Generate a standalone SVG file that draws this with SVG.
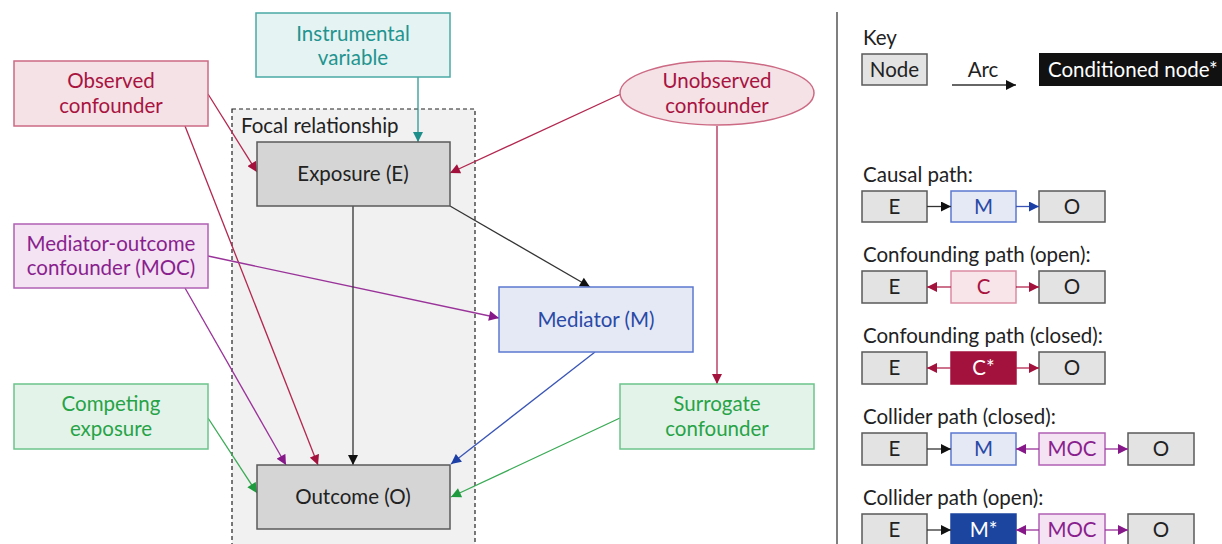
<svg xmlns="http://www.w3.org/2000/svg" width="1222" height="544" viewBox="0 0 1222 544">
<style>
text { font-family: Lato, "Noto Sans", "Liberation Sans", sans-serif; font-size: 20.5px; }
.c { text-anchor: middle; }
.gray { fill: #d5d5d5; stroke: #5a5a5a; stroke-width: 1.5; }
.kgray { fill: #e3e3e3; stroke: #5a5a5a; stroke-width: 1.5; }
.red { fill: #f5e2e7; stroke: #cc6a84; stroke-width: 1.5; }
.teal { fill: #e5f3f2; stroke: #4aa9a5; stroke-width: 1.5; }
.purple { fill: #f3e3f3; stroke: #b060b4; stroke-width: 1.5; }
.green { fill: #e4f3e9; stroke: #6cc48a; stroke-width: 1.5; }
.blue { fill: #e5e9f6; stroke: #5b78cf; stroke-width: 1.5; }
.tred { fill: #a8143f; } .tteal { fill: #22948f; } .tpur { fill: #8a1f8e; } .tgreen { fill: #27a347; } .tblue { fill: #2a4aa6; } .tdark { fill: #222; }
.e { fill: none; stroke-width: 1.3; }
.ek { stroke: #333; marker-end: url(#ak); }
.er { stroke: #b3274f; marker-end: url(#ar); }
.ep { stroke: #993399; marker-end: url(#ap); }
.et { stroke: #2a9a96; marker-end: url(#at); }
.eb { stroke: #3a55b5; marker-end: url(#ab); }
.eg { stroke: #3aaa55; marker-end: url(#ag); }
</style>
<defs>
<marker id="ak" viewBox="0 0 10 10" refX="10" refY="5" markerWidth="11" markerHeight="10" markerUnits="userSpaceOnUse" orient="auto"><path d="M0,0 L10,5 L0,10 z" fill="#111"/></marker>
<marker id="ar" viewBox="0 0 10 10" refX="10" refY="5" markerWidth="11" markerHeight="10" markerUnits="userSpaceOnUse" orient="auto"><path d="M0,0 L10,5 L0,10 z" fill="#a3123d"/></marker>
<marker id="ap" viewBox="0 0 10 10" refX="10" refY="5" markerWidth="11" markerHeight="10" markerUnits="userSpaceOnUse" orient="auto"><path d="M0,0 L10,5 L0,10 z" fill="#86188a"/></marker>
<marker id="at" viewBox="0 0 10 10" refX="10" refY="5" markerWidth="11" markerHeight="10" markerUnits="userSpaceOnUse" orient="auto"><path d="M0,0 L10,5 L0,10 z" fill="#1d8e8a"/></marker>
<marker id="ab" viewBox="0 0 10 10" refX="10" refY="5" markerWidth="11" markerHeight="10" markerUnits="userSpaceOnUse" orient="auto"><path d="M0,0 L10,5 L0,10 z" fill="#1c3fa6"/></marker>
<marker id="ag" viewBox="0 0 10 10" refX="10" refY="5" markerWidth="11" markerHeight="10" markerUnits="userSpaceOnUse" orient="auto"><path d="M0,0 L10,5 L0,10 z" fill="#1f9a3e"/></marker>
</defs>
<rect width="1222" height="544" fill="#ffffff"/>

<g id="focal">
<rect x="232" y="109" width="243" height="445" fill="#f1f1f1" stroke="#222" stroke-width="1.2" stroke-dasharray="4,3"/>
<text x="241" y="133" class="tdark">Focal relationship</text>
</g>

<g id="connectors">
<line class="e et" x1="418" y1="77" x2="418" y2="142"/>
<line class="e er" x1="208" y1="94" x2="257" y2="172"/>
<line class="e er" x1="185" y1="126" x2="318" y2="465"/>
<line class="e er" x1="621" y1="94" x2="450" y2="173"/>
<line class="e er" x1="717" y1="126" x2="717" y2="384"/>
<line class="e ep" x1="208" y1="256" x2="499" y2="318"/>
<line class="e ep" x1="185" y1="288" x2="286" y2="465"/>
<line class="e eg" x1="208" y1="418" x2="257" y2="493"/>
<line class="e ek" x1="353" y1="206" x2="353" y2="465"/>
<line class="e ek" x1="450" y1="206" x2="590" y2="287"/>
<line class="e eb" x1="595" y1="352" x2="451" y2="464"/>
<line class="e eg" x1="620" y1="418" x2="451" y2="497"/>
</g>

<g id="instrumental">
<rect class="teal" x="256" y="13" width="194" height="64"/>
<text class="c tteal" x="353" y="41">Instrumental</text>
<text class="c tteal" x="353" y="65">variable</text>
</g>
<g id="observed">
<rect class="red" x="14" y="61" width="194" height="65"/>
<text class="c tred" x="111" y="88">Observed</text>
<text class="c tred" x="111" y="113">confounder</text>
</g>
<g id="unobserved">
<ellipse class="red" cx="717" cy="93" rx="97" ry="32"/>
<text class="c tred" x="717" y="88">Unobserved</text>
<text class="c tred" x="717" y="113">confounder</text>
</g>
<g id="exposure">
<rect class="gray" x="257" y="142" width="193" height="64"/>
<text class="c tdark" x="353" y="181">Exposure (E)</text>
</g>
<g id="moc">
<rect class="purple" x="14" y="224" width="194" height="64"/>
<text class="c tpur" x="111" y="251">Mediator-outcome</text>
<text class="c tpur" x="111" y="275">confounder (MOC)</text>
</g>
<g id="mediator">
<rect class="blue" x="499" y="287" width="194" height="65"/>
<text class="c tblue" x="596" y="327">Mediator (M)</text>
</g>
<g id="competing">
<rect class="green" x="14" y="384" width="194" height="65"/>
<text class="c tgreen" x="111" y="411">Competing</text>
<text class="c tgreen" x="111" y="436">exposure</text>
</g>
<g id="surrogate">
<rect class="green" x="620" y="384" width="194" height="65"/>
<text class="c tgreen" x="717" y="411">Surrogate</text>
<text class="c tgreen" x="717" y="436">confounder</text>
</g>
<g id="outcome">
<rect class="gray" x="257" y="465" width="193" height="64"/>
<text class="c tdark" x="353" y="504">Outcome (O)</text>
</g>

<line x1="837" y1="12" x2="837" y2="544" stroke="#555" stroke-width="1.5"/>

<g id="key">
<text x="863" y="45" class="tdark">Key</text>
<rect class="kgray" x="862" y="54" width="65" height="31"/>
<text class="c tdark" x="894.5" y="77">Node</text>
<text class="c tdark" x="983" y="77">Arc</text>
<line class="e ek" x1="952" y1="85" x2="1016" y2="85"/>
<rect x="1039" y="53" width="190" height="33" fill="#111"/>
<text x="1048" y="77" fill="#fff">Conditioned node*</text>
</g>

<g id="key-causal">
<text x="863" y="182" class="tdark">Causal path:</text>
<rect class="kgray" x="862" y="191" width="65" height="31"/>
<text class="c tdark" x="894.5" y="214">E</text>
<rect class="blue" x="951" y="191" width="65" height="31"/>
<text class="c tblue" x="983.5" y="214">M</text>
<rect class="kgray" x="1039" y="191" width="66" height="31"/>
<text class="c tdark" x="1072" y="214">O</text>
<line class="e ek" x1="927" y1="206.5" x2="951" y2="206.5"/>
<line class="e eb" x1="1016" y1="206.5" x2="1039" y2="206.5"/>
</g>

<g id="key-conf-open">
<text x="863" y="262" class="tdark">Confounding path (open):</text>
<rect class="kgray" x="862" y="271" width="65" height="32"/>
<text class="c tdark" x="894.5" y="294">E</text>
<rect fill="#f8e5ea" stroke="#da8ca2" stroke-width="1.5" x="951" y="271" width="65" height="32"/>
<text class="c tred" x="983.5" y="294">C</text>
<rect class="kgray" x="1039" y="271" width="66" height="32"/>
<text class="c tdark" x="1072" y="294">O</text>
<line class="e er" x1="951" y1="287" x2="927" y2="287"/>
<line class="e er" x1="1016" y1="287" x2="1039" y2="287"/>
</g>

<g id="key-conf-closed">
<text x="863" y="343" class="tdark">Confounding path (closed):</text>
<rect class="kgray" x="862" y="352" width="65" height="32"/>
<text class="c tdark" x="894.5" y="375">E</text>
<rect fill="#a3123d" stroke="#a3123d" stroke-width="1.5" x="951" y="352" width="65" height="32"/>
<text class="c" fill="#fff" x="983.5" y="375">C*</text>
<rect class="kgray" x="1039" y="352" width="66" height="32"/>
<text class="c tdark" x="1072" y="375">O</text>
<line class="e er" x1="951" y1="368" x2="927" y2="368"/>
<line class="e er" x1="1016" y1="368" x2="1039" y2="368"/>
</g>

<g id="key-coll-closed">
<text x="863" y="424" class="tdark">Collider path (closed):</text>
<rect class="kgray" x="862" y="433" width="65" height="32"/>
<text class="c tdark" x="894.5" y="456">E</text>
<rect class="blue" x="951" y="433" width="65" height="32"/>
<text class="c tblue" x="983.5" y="456">M</text>
<rect class="purple" x="1039" y="433" width="66" height="32"/>
<text class="c tpur" x="1072" y="456">MOC</text>
<rect class="kgray" x="1128" y="433" width="66" height="32"/>
<text class="c tdark" x="1161" y="456">O</text>
<line class="e ek" x1="927" y1="449" x2="951" y2="449"/>
<line class="e ep" x1="1039" y1="449" x2="1016" y2="449"/>
<line class="e ep" x1="1105" y1="449" x2="1128" y2="449"/>
</g>

<g id="key-coll-open">
<text x="863" y="505" class="tdark">Collider path (open):</text>
<rect class="kgray" x="862" y="514" width="65" height="32"/>
<text class="c tdark" x="894.5" y="537">E</text>
<rect fill="#1c45a0" stroke="#1c45a0" stroke-width="1.5" x="951" y="514" width="65" height="32"/>
<text class="c" fill="#fff" x="983.5" y="537">M*</text>
<rect class="purple" x="1039" y="514" width="66" height="32"/>
<text class="c tpur" x="1072" y="537">MOC</text>
<rect class="kgray" x="1128" y="514" width="66" height="32"/>
<text class="c tdark" x="1161" y="537">O</text>
<line class="e ek" x1="927" y1="530" x2="951" y2="530"/>
<line class="e ep" x1="1039" y1="530" x2="1016" y2="530"/>
<line class="e ep" x1="1105" y1="530" x2="1128" y2="530"/>
</g>
</svg>
